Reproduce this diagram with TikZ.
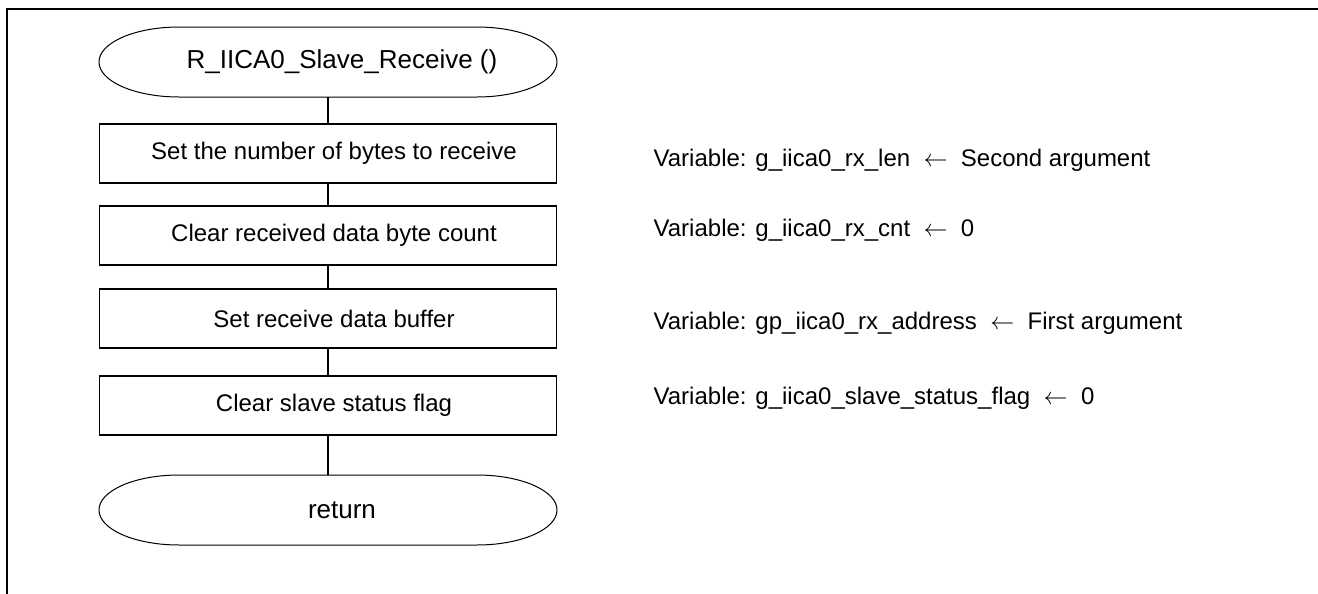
\documentclass[tikz,border=0pt]{standalone}
\usepackage{fontspec}
\setmainfont{Liberation Sans}
\usetikzlibrary{positioning}
\newcommand{\assignto}{~~$\leftarrow$~~}

\begin{document}
\begin{tikzpicture}[-,line width=0.9pt
  ,node distance=12pt,
  every node/.style={outer sep=0pt}]
  \tikzstyle{term}
  =[minimum width=229pt,minimum height=35pt,inner sep=0pt
  ,font=\fontsize{13}{15}\selectfont
  ,execute at begin node={\hspace*{14pt}}]
  \tikzstyle{proc}
  =[draw,minimum width=228.5pt,minimum height=29.5pt,inner sep=0pt
  ,font=\fontsize{12}{14}\selectfont
  ,execute at begin node={\hspace*{6pt}}]
  \tikzstyle{note}=[anchor=west,font=\fontsize{12}{14}\selectfont]

  \useasboundingbox (0,0) rectangle (659pt,-297pt);
  % frame
  \draw[line width=1.2pt] (3.5pt,-297pt) -- (3.5pt,-4.5pt) -- (659pt,-4.5pt);

  \node[term](start) at (164pt,-31pt) {R\_IICA0\_Slave\_Receive ()};
  \node[proc,below=13.5pt of start](len) {Set the number of bytes to receive};
  \node[proc,below=11.5pt of len](cnt) {Clear received data byte count};
  \node[proc,below=12pt of cnt](buf) {Set receive data buffer};
  \node[proc,below=14pt of buf](flag) {Clear slave status flag};
  \node[term,below=20pt of flag](ret) {return};

  % terminal outlines
  \foreach \t in {start,ret}
    \draw[line width=0.5pt] ([xshift=40pt]\t.north west)
      -- ([xshift=-40pt]\t.north east)
      arc[start angle=90,end angle=-90,x radius=40pt,y radius=17.5pt]
      -- ([xshift=40pt]\t.south west)
      arc[start angle=270,end angle=90,x radius=40pt,y radius=17.5pt]
      -- cycle;

  \path
  (start) edge (len)
  (len)   edge (cnt)
  (cnt)   edge (buf)
  (buf)   edge (flag)
  (flag)  edge (ret)
  ;

  \node[note](nlen) at (323.5pt,-80pt)
    {Variable: g\_iica0\_rx\_len\assignto Second argument};
  \node[note](ncnt) at (323.5pt,-115pt)
    {Variable: g\_iica0\_rx\_cnt\assignto 0};
  \node[note](nbuf) at (323.5pt,-161.5pt)
    {Variable: gp\_iica0\_rx\_address\assignto First argument};
  \node[note](nflag) at (323.5pt,-199pt)
    {Variable: g\_iica0\_slave\_status\_flag\assignto 0};

\end{tikzpicture}
\end{document}
